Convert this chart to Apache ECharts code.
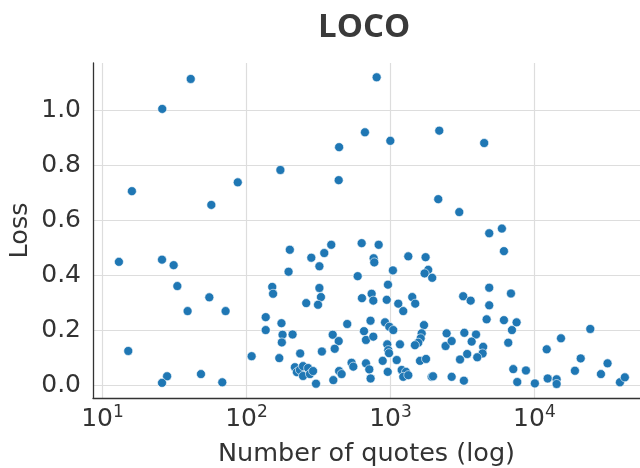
<!DOCTYPE html>
<html>
<head>
<meta charset="utf-8">
<script src="https://cdn.jsdelivr.net/npm/echarts@6/dist/echarts.min.js"></script>
<style>
  html, body { margin: 0; padding: 0; background: #fff; }
  #myChart { width: 640px; height: 468px; }
</style>
</head>
<body>
<div id="myChart"></div>
<script>
// number of quotes per item (x, log scale)
var quotes = [
  41, 26, 16, 57, 87, 802, 665, 998, 2183, 440,
  172, 437, 2148, 3006, 4478, 4853, 5943, 13.0, 25.9, 31.2,
  33.1, 55.2, 39.0, 71.6, 151, 153, 136, 136, 15.1, 108.6,
  28.1, 25.9, 48.3, 67.9, 200, 196, 282, 347, 388, 321,
  321, 329, 260, 314, 631, 828, 764, 772, 1330, 1754,
  1829, 1726, 1950, 1040, 592, 961, 634, 740, 760, 942,
  1133, 1417, 1486, 1227, 3200, 3606, 175, 178, 176, 209,
  169, 236, 217, 224, 235, 247, 247, 268, 276, 290,
  304, 334, 397, 437, 410, 501, 401, 440, 458, 537,
  552, 727, 655, 676, 760, 917, 982, 1046, 950, 966,
  977, 883, 1164, 1105, 957, 676, 713, 728, 1197, 1282,
  1227, 1330, 1710, 1648, 1622, 1560, 1479, 1604, 1766, 1932,
  1975, 2455, 2415, 2661, 2661, 3042, 3236, 6140, 4853, 6870,
  4853, 4656, 6140, 7520, 6980, 6580, 3260, 3930, 3665, 4405,
  4365, 3412, 4008, 7130, 8730, 7600, 10070, 12170, 15290, 24430,
  20960, 19110, 32200, 28970, 12360, 14260, 14260, 39260, 42460
];
// loss for each item
var loss = [
  1.113, 1.004, 0.705, 0.655, 0.737, 1.119, 0.919, 0.888, 0.925, 0.865,
  0.782, 0.745, 0.676, 0.629, 0.880, 0.552, 0.569, 0.448, 0.456, 0.436,
  0.360, 0.319, 0.269, 0.269, 0.357, 0.332, 0.247, 0.200, 0.124, 0.105,
  0.032, 0.008, 0.040, 0.010, 0.492, 0.412, 0.463, 0.480, 0.510, 0.432,
  0.353, 0.320, 0.298, 0.292, 0.516, 0.510, 0.461, 0.446, 0.468, 0.465,
  0.419, 0.406, 0.390, 0.417, 0.396, 0.365, 0.316, 0.332, 0.307, 0.310,
  0.296, 0.320, 0.296, 0.269, 0.323, 0.307, 0.225, 0.183, 0.155, 0.184,
  0.098, 0.115, 0.065, 0.047, 0.055, 0.069, 0.033, 0.062, 0.040, 0.051,
  0.005, 0.122, 0.183, 0.160, 0.132, 0.222, 0.018, 0.051, 0.040, 0.081,
  0.067, 0.234, 0.196, 0.164, 0.176, 0.228, 0.212, 0.200, 0.148, 0.127,
  0.116, 0.088, 0.148, 0.091, 0.048, 0.079, 0.057, 0.024, 0.055, 0.048,
  0.030, 0.036, 0.218, 0.188, 0.170, 0.154, 0.145, 0.088, 0.095, 0.030,
  0.032, 0.188, 0.142, 0.160, 0.030, 0.093, 0.016, 0.487, 0.354, 0.333,
  0.290, 0.239, 0.236, 0.228, 0.200, 0.154, 0.190, 0.184, 0.158, 0.139,
  0.115, 0.113, 0.101, 0.058, 0.053, 0.011, 0.006, 0.130, 0.170, 0.204,
  0.097, 0.052, 0.079, 0.040, 0.024, 0.021, 0.004, 0.010, 0.028
];

var points = quotes.map(function (q, i) { return [q, loss[i]]; });

var textColor = '#333333';
var font = 'DejaVu Sans';

var option = {
  animation: false,
  backgroundColor: '#ffffff',
  title: {
    text: 'LOCO',
    left: 313,
    top: 6,
    textStyle: { fontFamily: 'Open Sans', fontWeight: 'bold', fontSize: 33, color: '#3a3a3a' }
  },
  grid: { left: 93, top: 63, right: 0, bottom: 70, outerBoundsMode: 'none', containLabel: false },
  xAxis: {
    type: 'log',
    logBase: 10,
    min: 8.59,
    max: 54100,
    name: 'Number of quotes (log)',
    nameLocation: 'middle',
    nameGap: 43,
    nameTextStyle: { fontFamily: font, fontSize: 25.5, color: textColor },
    axisLine: { show: true, onZero: false, lineStyle: { color: '#333333', width: 1.3 } },
    axisTick: { show: false },
    minorTick: { show: false },
    splitLine: { show: true, showMinLine: false, showMaxLine: false, lineStyle: { color: '#dddddd', width: 1.2 } },
    axisLabel: {
      margin: 6,
      showMinLabel: false,
      showMaxLabel: false,
      formatter: function (v) {
        var e = Math.log10(v);
        if (Math.abs(e - Math.round(e)) > 1e-6) return '';
        return '{b|10}{s|' + Math.round(e) + '}';
      },
      rich: {
        b: { fontFamily: font, fontSize: 25, color: textColor, lineHeight: 30 },
        s: { fontFamily: font, fontSize: 17, color: textColor, lineHeight: 17, verticalAlign: 'top' }
      }
    }
  },
  yAxis: {
    type: 'value',
    min: -0.047,
    max: 1.171,
    splitNumber: 6,
    name: 'Loss',
    nameLocation: 'middle',
    nameGap: 60,
    nameMoveOverlap: false,
    nameTextStyle: { fontFamily: font, fontSize: 25.5, color: textColor },
    axisLine: { show: true, onZero: false, lineStyle: { color: '#333333', width: 1.3 } },
    axisTick: { show: false },
    splitLine: { show: true, showMinLine: false, showMaxLine: false, lineStyle: { color: '#dddddd', width: 1.2 } },
    axisLabel: {
      margin: 12,
      showMinLabel: false,
      showMaxLabel: false,
      fontFamily: font,
      fontSize: 25,
      color: textColor,
      formatter: function (v) {
        var k = v / 0.2;
        if (Math.abs(k - Math.round(k)) > 1e-6) return '';
        return v.toFixed(1);
      }
    }
  },
  series: [
    {
      type: 'scatter',
      data: points,
      symbolSize: 9,
      itemStyle: { color: '#1f77b4', borderColor: '#ffffff', borderWidth: 0.6, opacity: 1 }
    }
  ]
};

var myChart = echarts.init(document.getElementById('myChart'));
myChart.setOption(option);
</script>
</body>
</html>
